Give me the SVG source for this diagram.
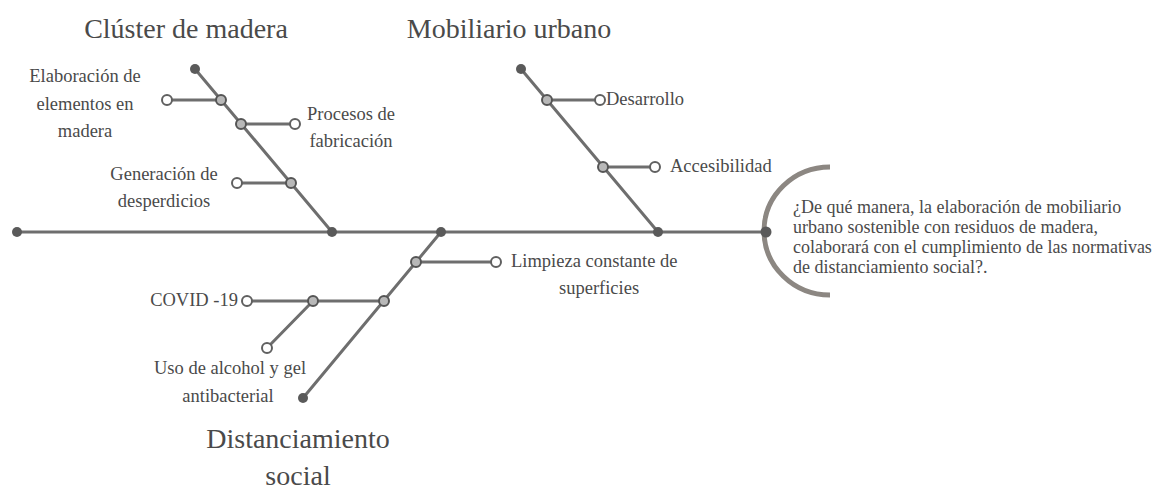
<svg xmlns="http://www.w3.org/2000/svg" width="1168" height="491" viewBox="0 0 1168 491">
<style>
.ln{stroke:#6e6e6e;stroke-width:3;fill:none;stroke-linecap:round}
.dot{fill:#5a5a5a}
.jn{fill:#b8b8b8;stroke:#555;stroke-width:2}
.end{fill:#fff;stroke:#606060;stroke-width:2}
.t{font-family:"Liberation Serif","Times New Roman",serif;fill:#4a4a4a}
.title{font-size:28px}
.lbl{font-size:18.5px}
.q{font-size:18px}
</style>
<rect width="1168" height="491" fill="#fff"/>
<g id="connectors">
<line class="ln" x1="17" y1="232" x2="766" y2="232"/>
<line class="ln" x1="195" y1="69" x2="332" y2="232"/>
<line class="ln" x1="521" y1="69" x2="658" y2="232"/>
<line class="ln" x1="441" y1="232" x2="303" y2="398"/>
<line class="ln" x1="167" y1="100" x2="221" y2="100"/>
<line class="ln" x1="241" y1="124" x2="295" y2="124"/>
<line class="ln" x1="237" y1="183" x2="291" y2="183"/>
<line class="ln" x1="547" y1="100" x2="600" y2="100"/>
<line class="ln" x1="603" y1="167" x2="655" y2="167"/>
<line class="ln" x1="416" y1="262" x2="496" y2="262"/>
<line class="ln" x1="247" y1="301" x2="384" y2="301"/>
<line class="ln" x1="313" y1="301" x2="267" y2="348"/>
</g>
<g id="spine-tail"><circle class="dot" cx="17" cy="232" r="5"/></g>
<g id="cluster-madera">
<circle class="dot" cx="195" cy="69" r="5"/>
<circle class="dot" cx="332" cy="232" r="5"/>
<text class="t title" x="186" y="38" text-anchor="middle">Clúster de madera</text>
</g>
<g id="elaboracion">
<circle class="jn" cx="221" cy="100" r="5"/>
<circle class="end" cx="167" cy="100" r="5"/>
<text class="t lbl" x="85" text-anchor="middle"><tspan x="85" y="82">Elaboración de</tspan><tspan x="85" y="110">elementos en</tspan><tspan x="85" y="137">madera</tspan></text>
</g>
<g id="procesos">
<circle class="jn" cx="241" cy="124" r="5"/>
<circle class="end" cx="295" cy="124" r="5"/>
<text class="t lbl" x="351" text-anchor="middle"><tspan x="351" y="120">Procesos de</tspan><tspan x="351" y="147">fabricación</tspan></text>
</g>
<g id="generacion">
<circle class="jn" cx="291" cy="183" r="5"/>
<circle class="end" cx="237" cy="183" r="5"/>
<text class="t lbl" x="164" text-anchor="middle"><tspan x="164" y="180">Generación de</tspan><tspan x="164" y="207">desperdicios</tspan></text>
</g>
<g id="mobiliario-urbano">
<circle class="dot" cx="521" cy="69" r="5"/>
<circle class="dot" cx="658" cy="232" r="5"/>
<text class="t title" x="509" y="38" text-anchor="middle">Mobiliario urbano</text>
</g>
<g id="desarrollo">
<circle class="jn" cx="547" cy="100" r="5"/>
<circle class="end" cx="600" cy="100" r="5"/>
<text class="t lbl" x="606" y="105">Desarrollo</text>
</g>
<g id="accesibilidad">
<circle class="jn" cx="603" cy="167" r="5"/>
<circle class="end" cx="655" cy="167" r="5"/>
<text class="t lbl" x="670" y="172">Accesibilidad</text>
</g>
<g id="distanciamiento-social">
<circle class="dot" cx="441" cy="232" r="5"/>
<circle class="dot" cx="303" cy="398" r="5"/>
<text class="t title" x="298" text-anchor="middle"><tspan x="298" y="448">Distanciamiento</tspan><tspan x="298" y="485">social</tspan></text>
</g>
<g id="limpieza">
<circle class="jn" cx="416" cy="262" r="5"/>
<circle class="end" cx="496" cy="262" r="5"/>
<text class="t lbl"><tspan x="511" y="267">Limpieza constante de</tspan><tspan x="559" y="294">superficies</tspan></text>
</g>
<g id="covid">
<circle class="jn" cx="384" cy="301" r="5"/>
<circle class="end" cx="247" cy="301" r="5"/>
<text class="t lbl" x="238" y="306" text-anchor="end">COVID -19</text>
</g>
<g id="uso-alcohol">
<circle class="jn" cx="313" cy="301" r="5"/>
<circle class="end" cx="267" cy="348" r="5"/>
<text class="t lbl" x="230" text-anchor="middle"><tspan x="230" y="374">Uso de alcohol y gel</tspan><tspan x="228" y="402">antibacterial</tspan></text>
</g>
<g id="head">
<path d="M830,167 A66,64 0 0 0 830,295" fill="none" stroke="#8c8782" stroke-width="5"/>
<circle class="dot" cx="766" cy="232" r="5.5"/>
<text class="t q"><tspan x="793" y="213">¿De qué manera, la elaboración de mobiliario</tspan><tspan x="793" y="233">urbano sostenible con residuos de madera,</tspan><tspan x="793" y="253">colaborará con el cumplimiento de las normativas</tspan><tspan x="793" y="273">de distanciamiento social?.</tspan></text>
</g>
</svg>
